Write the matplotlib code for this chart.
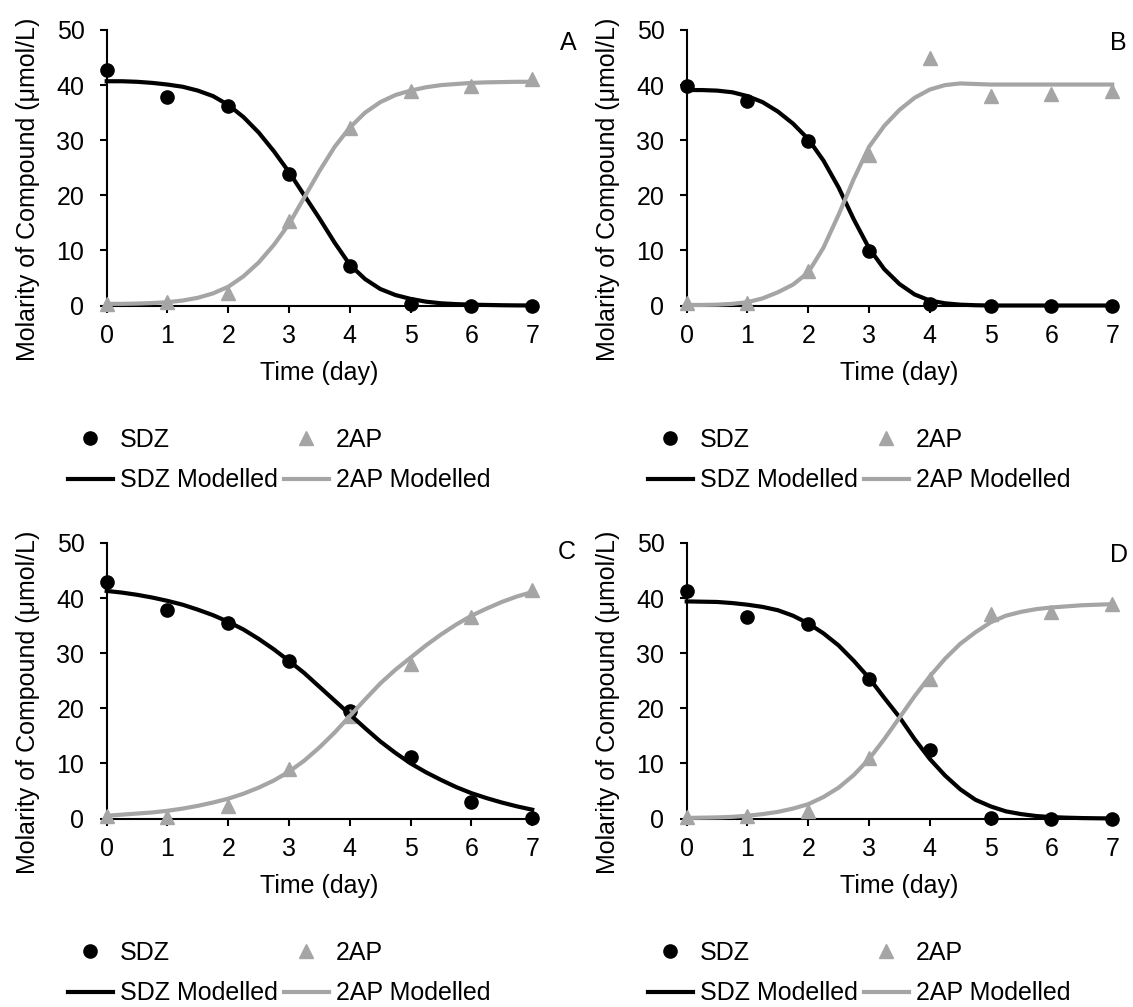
import numpy as np
import matplotlib
matplotlib.use("Agg")
import matplotlib.pyplot as plt

# measured points (day 0..7)
days = [0, 1, 2, 3, 4, 5, 6, 7]

sdz_A = [42.7, 37.9, 36.2, 23.8, 7.2, 0.2, 0.0, 0.0]
ap_A = [0.3, 0.6, 2.3, 15.3, 32.3, 39.0, 39.8, 41.1]
sdz_B = [39.9, 37.1, 29.9, 9.9, 0.2, 0.0, 0.0, 0.0]
ap_B = [0.4, 0.4, 6.2, 27.4, 45.0, 38.0, 38.4, 38.9]
sdz_C = [43.0, 37.9, 35.5, 28.5, 19.5, 11.2, 3.0, 0.1]
ap_C = [0.4, 0.3, 2.2, 8.9, 18.6, 28.0, 36.5, 41.5]
sdz_D = [41.3, 36.6, 35.3, 25.3, 12.4, 0.1, 0.0, 0.0]
ap_D = [0.3, 0.4, 1.3, 10.9, 25.3, 37.2, 37.4, 38.9]

t_model = [0, 0.25, 0.5, 0.75, 1, 1.25, 1.5, 1.75, 2, 2.25, 2.5, 2.75, 3, 3.25,
           3.5, 3.75, 4, 4.25, 4.5, 4.75, 5, 5.25, 5.5, 5.75, 6, 6.25, 6.5, 6.75, 7]

sdz_mod_A = [40.7, 40.7, 40.6, 40.4, 40.1, 39.7, 39.0, 38.0, 36.4, 34.2, 31.4, 28.0, 24.2, 20.0,
             15.8, 11.4, 7.4, 4.8, 3.0, 1.9, 1.2, 0.7, 0.4, 0.25, 0.15, 0.1, 0.05, 0.02, 0.01]
ap_mod_A = [0.3, 0.3, 0.35, 0.45, 0.6, 0.9, 1.4, 2.2, 3.4, 5.3, 7.8, 11.0, 14.8, 19.6,
            24.4, 28.8, 32.3, 35.0, 36.9, 38.2, 39.0, 39.6, 40.0, 40.2, 40.4, 40.5, 40.55, 40.6, 40.6]

sdz_mod_B = [39.1, 39.1, 39.0, 38.7, 38.0, 36.9, 35.2, 33.0, 30.2, 26.3, 21.4, 15.6, 10.4, 6.6,
             3.9, 2.0, 0.9, 0.4, 0.15, 0.05, 0.0, 0.0, 0.0, 0.0, 0.0, 0.0, 0.0, 0.0, 0.0]
ap_mod_B = [0.1, 0.1, 0.15, 0.3, 0.6, 1.3, 2.4, 3.8, 6.0, 10.5, 16.5, 23.0, 28.8, 32.6,
            35.5, 37.7, 39.2, 40.0, 40.3, 40.2, 40.1, 40.1, 40.1, 40.1, 40.1, 40.1, 40.1, 40.1, 40.1]

sdz_mod_C = [41.3, 41.0, 40.6, 40.1, 39.5, 38.8, 37.9, 36.9, 35.7, 34.3, 32.6, 30.7, 28.6, 26.4,
             23.9, 21.4, 18.9, 16.4, 14.0, 11.9, 10.0, 8.4, 7.0, 5.7, 4.6, 3.7, 2.9, 2.2, 1.6]
ap_mod_C = [0.5, 0.7, 0.9, 1.1, 1.4, 1.8, 2.3, 2.9, 3.6, 4.5, 5.6, 6.9, 8.5, 10.5,
            12.9, 15.6, 18.6, 21.6, 24.5, 27.0, 29.2, 31.4, 33.4, 35.2, 36.8, 38.1, 39.3, 40.3, 41.1]

sdz_mod_D = [39.4, 39.35, 39.3, 39.1, 38.8, 38.4, 37.8, 36.8, 35.4, 33.6, 31.4, 28.6, 25.5, 21.9,
             18.4, 14.4, 10.8, 7.8, 5.3, 3.4, 2.2, 1.3, 0.8, 0.45, 0.25, 0.15, 0.08, 0.04, 0.02]
ap_mod_D = [0.1, 0.15, 0.2, 0.3, 0.5, 0.8, 1.2, 1.8, 2.6, 3.9, 5.6, 7.9, 10.8, 14.4,
            18.3, 22.2, 25.8, 29.0, 31.7, 33.8, 35.6, 36.8, 37.5, 38.0, 38.3, 38.5, 38.7, 38.8, 38.9]

panels = [
    ("A", sdz_A, ap_A, sdz_mod_A, ap_mod_A),
    ("B", sdz_B, ap_B, sdz_mod_B, ap_mod_B),
    ("C", sdz_C, ap_C, sdz_mod_C, ap_mod_C),
    ("D", sdz_D, ap_D, sdz_mod_D, ap_mod_D),
]

plt.rcParams['font.family'] = ['Liberation Sans', 'DejaVu Sans']
plt.rcParams['font.size'] = 18

gray = '#a5a5a5'
W, H = 1133, 1007

# axes boxes in pixels: left, top
ax_left = [106.7, 686.7]
ax_top = [30, 543]
ax_w, ax_h = 425.5, 275.5
letter_pos = [(568, 43), (1118, 43), (567, 552), (1119, 555)]

fig = plt.figure(figsize=(W / 100, H / 100), dpi=100)

for i, (name, sdz, ap, sdz_mod, ap_mod) in enumerate(panels):
    left = ax_left[i % 2]
    top = ax_top[i // 2]
    ax = fig.add_axes([left / W, 1 - (top + ax_h) / H, ax_w / W, ax_h / H])

    h1, = ax.plot(days, sdz, 'o', color='black', ms=9.5, label='SDZ', clip_on=False, zorder=3)
    h2, = ax.plot(days, ap, '^', color=gray, ms=9.5, label='2AP', clip_on=False, zorder=3)
    h3, = ax.plot(t_model, sdz_mod, '-', color='black', lw=3, label='SDZ Modelled',
                  clip_on=False, zorder=4)
    h4, = ax.plot(t_model, ap_mod, '-', color=gray, lw=3, label='2AP Modelled',
                  clip_on=False, zorder=4)

    ax.set_xlim(0, 7)
    ax.set_ylim(0, 50)
    ax.set_xticks(range(8))
    ax.set_yticks(range(0, 51, 10))
    for s in ['top', 'right']:
        ax.spines[s].set_visible(False)
    for s in ['left', 'bottom']:
        ax.spines[s].set_linewidth(1.5)
    ax.tick_params(axis='x', direction='out', length=5, width=1.5, pad=8)
    ax.tick_params(axis='y', direction='out', length=5, width=1.5, pad=11)

    ax.set_xlabel('Time (day)')
    ax.xaxis.set_label_coords(0.5, -0.2)
    ax.set_ylabel('Molarity of Compound (\u03bcmol/L)')
    ax.yaxis.set_label_coords(-0.157, 0.42)

    ax.legend([h1, h3, h2, h4], ['SDZ', 'SDZ Modelled', '2AP', '2AP Modelled'],
              ncol=2, frameon=False, loc='center', bbox_to_anchor=(0.405, -0.562),
              handlelength=1.8, handletextpad=0.28, columnspacing=0.25,
              labelspacing=0.65, numpoints=1, borderpad=0, fontsize=18)

    lx, ly = letter_pos[i]
    fig.text(lx / W, 1 - ly / H, name, ha='center', va='center', fontsize=18)

fig.savefig('out.png', dpi=100)
